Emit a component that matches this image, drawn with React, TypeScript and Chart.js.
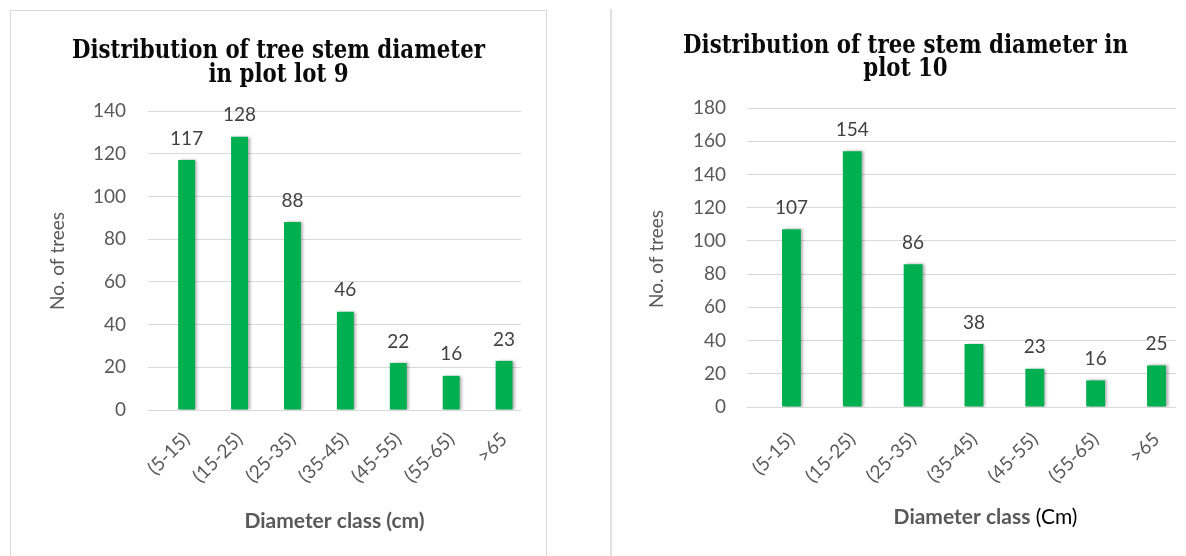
import React, { useEffect, useRef } from "react";
import { Chart, registerables } from "chart.js";

Chart.register(...registerables);

// ---------- data ----------
const categories = ["(5-15)", "(15-25)", "(25-35)", "(35-45)", "(45-55)", "(55-65)", ">65"];
const plot9Counts = [117, 128, 88, 46, 22, 16, 23];
const plot10Counts = [107, 154, 86, 38, 23, 16, 25];
const plot9YMax = 140;
const plot10YMax = 180;
const yStep = 20;
const plot9Title = ["Distribution of tree stem diameter", "in plot lot 9"];
const plot10Title = ["Distribution of tree stem diameter in", "plot 10"];
const yAxisTitle = "No. of trees";
const plot9XTitle = [{ text: "Diameter class (cm)", bold: true }];
const plot10XTitle = [
  { text: "Diameter class", bold: true },
  { text: " (Cm)", bold: false },
];

const BAR_GREEN = "#00B050";
const GRID = "#d9d9d9";
const TICK_COLOR = "#595959";
const SANS = "Lato";
const SERIF = '"DejaVu Serif"';

// ---------- plugins ----------
const barShadow = {
  id: "barShadow",
  beforeDatasetsDraw(chart: any) {
    const ctx = chart.ctx;
    ctx.save();
    ctx.shadowColor = "rgba(0,0,0,0.35)";
    ctx.shadowBlur = 3;
    ctx.shadowOffsetX = 2;
    ctx.shadowOffsetY = 0;
  },
  afterDatasetsDraw(chart: any) {
    chart.ctx.restore();
  },
};

const valueLabels = {
  id: "valueLabels",
  afterDatasetsDraw(chart: any, _args: any, opts: any) {
    const ctx = chart.ctx;
    ctx.save();
    ctx.font = `${opts.size}px ${SANS}`;
    ctx.fillStyle = "#404040";
    ctx.textAlign = "center";
    ctx.textBaseline = "middle";
    chart.data.datasets.forEach((ds: any, di: number) => {
      const meta = chart.getDatasetMeta(di);
      meta.data.forEach((bar: any, i: number) => {
        ctx.fillText(String(ds.data[i]), bar.x, bar.y - opts.offset);
      });
    });
    ctx.restore();
  },
};

const panelText = {
  id: "panelText",
  afterDraw(chart: any, _args: any, opts: any) {
    const ctx = chart.ctx;
    ctx.save();
    // chart title (two lines, bold serif), fitted to the reference width
    ctx.fillStyle = "#0a0a0a";
    ctx.textAlign = "center";
    ctx.textBaseline = "alphabetic";
    ctx.font = `bold ${opts.titleSize}px ${SERIF}`;
    const w0 = ctx.measureText(opts.title[0]).width;
    const sx = opts.titleWidth / w0;
    opts.title.forEach((line: string, i: number) => {
      ctx.save();
      ctx.translate(opts.titleX, opts.titleY[i]);
      ctx.scale(sx, opts.titleStretch);
      ctx.fillText(line, 0, 0);
      ctx.restore();
    });
    // y axis title
    ctx.save();
    ctx.translate(opts.yTitleX, opts.yTitleY);
    ctx.rotate(-Math.PI / 2);
    ctx.font = `19px ${SANS}`;
    ctx.fillStyle = TICK_COLOR;
    ctx.textAlign = "center";
    ctx.textBaseline = "middle";
    ctx.fillText(yAxisTitle, 0, 0);
    ctx.restore();
    // x axis title (mixed styles)
    const parts = opts.xTitle;
    const fontOf = (p: any) => `${p.bold ? "bold " : ""}21px ${SANS}`;
    let total = 0;
    parts.forEach((p: any) => {
      ctx.font = fontOf(p);
      total += ctx.measureText(p.text).width;
    });
    let x = opts.xTitleX - total / 2;
    ctx.textAlign = "left";
    ctx.textBaseline = "middle";
    parts.forEach((p: any) => {
      ctx.font = fontOf(p);
      ctx.fillStyle = p.bold ? TICK_COLOR : "#000000";
      ctx.fillText(p.text, x, opts.xTitleY);
      x += ctx.measureText(p.text).width;
    });
    ctx.restore();
  },
};

function makeConfig(values: number[], yMax: number, p: any) {
  return {
    type: "bar",
    data: {
      labels: categories,
      datasets: [
        {
          data: values,
          backgroundColor: BAR_GREEN,
          borderWidth: 0,
          barPercentage: p.barPct,
          categoryPercentage: 1,
        },
      ],
    },
    options: {
      animation: false,
      responsive: false,
      maintainAspectRatio: false,
      events: [],
      layout: { padding: { top: p.top, right: p.right, left: 0, bottom: 0 } },
      plugins: {
        legend: { display: false },
        title: { display: false },
        tooltip: { enabled: false },
        valueLabels: { size: 19, offset: 21.5 },
        panelText: p.text,
      },
      scales: {
        x: {
          grid: { display: false },
          border: { display: false },
          ticks: {
            autoSkip: false,
            minRotation: 45,
            maxRotation: 45,
            font: { family: SANS, size: 19 },
            color: TICK_COLOR,
            padding: p.xPad,
          },
          afterFit: (s: any) => {
            s.height = p.xHeight;
          },
          afterBuildTicks: (s: any) => {
            s._startValue = -0.73;
            s._valueRange = 7.05;
          },
        },
        y: {
          min: 0,
          max: yMax,
          ticks: {
            stepSize: yStep,
            font: { family: SANS, size: 19 },
            color: TICK_COLOR,
            padding: p.yPad,
          },
          grid: { color: GRID, drawTicks: false, lineWidth: 1 },
          border: { display: false },
          afterFit: (s: any) => {
            s.width = p.yWidth;
          },
        },
      },
    },
    plugins: [barShadow, valueLabels, panelText],
  } as any;
}

function BarPanel(props: { values: number[]; yMax: number; p: any; left: number; width: number }) {
  const ref = useRef<HTMLCanvasElement | null>(null);
  useEffect(() => {
    if (!ref.current) return;
    const chart = new Chart(ref.current, makeConfig(props.values, props.yMax, props.p));
    return () => chart.destroy();
  }, []);
  return (
    <canvas
      ref={ref}
      width={props.width}
      height={556}
      style={{ position: "absolute", left: props.left, top: 0, width: props.width, height: 556 }}
    />
  );
}

export default function App() {
  const p9 = {
    barPct: 0.32,
    top: 111,
    right: 590 - 521,
    xHeight: 556 - 410,
    yWidth: 148,
    yPad: 22,
    xPad: 10,
    text: {
      title: plot9Title,
      titleX: 278.5,
      titleY: [58, 82],
      titleSize: 19,
      titleWidth: 413,
      titleStretch: 1.4,
      yTitleX: 58,
      yTitleY: 261,
      xTitle: plot9XTitle,
      xTitleX: 334.5,
      xTitleY: 521.5,
    },
  };
  const p10 = {
    barPct: 0.31,
    top: 108,
    right: 586 - 577,
    xHeight: 556 - 407,
    yWidth: 147,
    yPad: 21,
    xPad: 13,
    text: {
      title: plot10Title,
      titleX: 305.5,
      titleY: [53, 76],
      titleSize: 19,
      titleWidth: 445,
      titleStretch: 1.4,
      yTitleX: 57,
      yTitleY: 259,
      xTitle: plot10XTitle,
      xTitleX: 385.5,
      xTitleY: 517,
    },
  };
  return (
    <div
      style={{
        position: "fixed",
        left: 0,
        top: 0,
        width: 1186,
        height: 556,
        background: "#ffffff",
        overflow: "hidden",
      }}
    >
      <div
        style={{
          position: "absolute",
          left: 10,
          top: 10,
          width: 537,
          height: 600,
          border: "1.5px solid #d9d9d9",
          boxSizing: "border-box",
        }}
      />
      <div
        style={{
          position: "absolute",
          left: 610,
          top: 9,
          width: 2,
          height: 560,
          background: "#e0e0e0",
        }}
      />
      <BarPanel values={plot9Counts} yMax={plot9YMax} p={p9} left={0} width={590} />
      <BarPanel values={plot10Counts} yMax={plot10YMax} p={p10} left={600} width={586} />
    </div>
  );
}
